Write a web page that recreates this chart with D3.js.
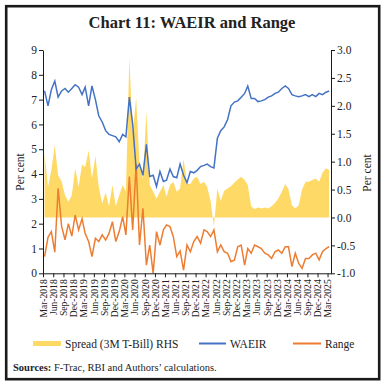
<!DOCTYPE html>
<html>
<head>
<meta charset="utf-8">
<script src="https://cdn.jsdelivr.net/npm/d3@7"></script>
<style>
  body { margin: 0; background: #fff; }
  text { font-family: "Liberation Serif", serif; fill: #222; }
</style>
</head>
<body>
<div id="chart"></div>
<script>
// monthly, Mar-2018 .. Mar-2025
let waeir = [
  7.35, 6.75, 7.4, 7.75, 7.1, 7.35, 7.45, 7.3, 7.45, 7.6,
  7.5, 7.2, 7.5, 6.75, 7.55, 7.0, 6.35, 6.1, 5.75, 5.6,
  5.55, 5.5, 5.3, 5.6, 5.5, 7.1, 6.0, 4.2, 4.4, 3.95,
  5.2, 3.9, 3.95, 3.5, 4.1, 3.7, 3.75, 4.2, 3.9, 3.85,
  4.4, 3.95, 3.65, 4.1, 4.05, 4.15, 4.3, 4.35, 4.4, 4.3,
  4.25, 5.45, 5.75, 5.9, 6.2, 6.75, 6.9, 6.95, 7.1, 7.25,
  7.55, 7.05, 7.05, 6.92, 6.95, 7.0, 7.1, 7.15, 7.25, 7.3,
  7.45, 7.55, 7.45, 7.2, 7.15, 7.12, 7.15, 7.2, 7.12, 7.2,
  7.12, 7.25, 7.2, 7.3, 7.35
];

let spread = [
  1.15, 0.55, 0.85, 1.3, 0.75, 0.65, 0.4, 0.28, 0.4, 0.88,
  0.55, 0.95, 0.9, 1.2, 0.7, 1.1, 0.55, 0.25, 0.45, 0.2,
  0.58, 0.2, 0.4, 0.58, 0.46, 2.85, 1.5, 2.15, 1.0, 0.7,
  1.9, 0.58, 0.46, 0.34, 0.46, 0.58, 0.37, 0.58, 0.64, 0.46,
  0.52, 1.05, 0.6, 0.6, 0.7, 0.73, 0.6, 0.64, 0.55, 0.3,
  -0.16, 0.52, 0.3, 0.48, 0.52, 0.56, 0.62, 0.68, 0.73, 0.67,
  0.58, 0.2, 0.15, 0.18, 0.16, 0.18, 0.16, 0.2, 0.26, 0.34,
  0.46, 0.6, 0.5, 0.22, 0.16, 0.22, 0.5, 0.64, 0.64, 0.67,
  0.7, 0.64, 0.8, 0.88, 0.85
];

let range_vals = [
  0.67, 1.45, 1.68, 0.85, 3.43, 1.9, 1.35, 2.0, 1.5, 2.35,
  1.75, 2.2, 1.6, 1.28, 0.67, 1.41, 1.28, 1.55, 1.34, 1.61,
  2.08, 1.28, 1.68, 2.28, 1.55, 3.9, 1.75, 4.4, 1.14, 2.62,
  0.33, 1.14, 0.0, 1.68, 1.14, 1.75, 1.95, 1.88, 1.48, 0.67,
  0.9, 0.13, 1.14, 0.87, 1.28, 1.48, 1.21, 1.75, 1.68, 1.48,
  1.75, 0.87, 1.14, 0.87, 0.81, 0.47, 0.54, 1.07, 1.14, 0.33,
  1.0, 0.81, 1.14, 1.07, 1.0, 0.81, 0.74, 0.6, 0.87, 0.94,
  0.81, 1.07, 1.07, 0.27, 0.81, 0.4, 0.2, 0.6, 0.6, 0.74,
  0.81, 0.54, 0.87, 1.0, 1.07
];

let left_ticks  = [0, 1, 2, 3, 4, 5, 6, 7, 8, 9];
let right_ticks = [-1, -0.5, 0, 0.5, 1, 1.5, 2, 2.5, 3];
let series_names = ['Spread (3M T-Bill) RHS', 'WAEIR', 'Range'];

let chart_width  = 384;
let chart_height = 386;
let x0 = 43, x1 = 331, y_top = 50, y_bot = 273.3;

let start = new Date(2018, 2, 1);
let end   = new Date(2025, 3, 1);
let months = d3.timeMonth.range(start, end);
let mid = i => d3.timeDay.offset(months[i], 14);

//svg
let svg = d3.select('#chart')
  .append('svg')
  .attr('width', chart_width)
  .attr('height', chart_height);

svg.append('rect')
  .attr('x', 6.2).attr('y', 6.2)
  .attr('width', 373).attr('height', 373)
  .attr('fill', 'none')
  .attr('stroke', '#1a1a1a')
  .attr('stroke-width', 2.6);

svg.append('text')
  .attr('x', 192).attr('y', 28)
  .attr('text-anchor', 'middle')
  .attr('font-size', 16.5)
  .attr('font-weight', 'bold')
  .text('Chart 11: WAEIR and Range');

//scales
let x_scale = d3.scaleTime().domain([start, end]).range([x0, x1]);
let y_left  = d3.scaleLinear().domain([0, 9]).range([y_bot, y_top]);
let y_right = d3.scaleLinear().domain([-1, 3]).range([y_bot, y_top]);

//spread area
let area = d3.area()
  .x((d, i) => x_scale(mid(i)))
  .y0(y_right(0))
  .y1(d => y_right(d));

svg.append('path')
  .datum(spread)
  .attr('d', area)
  .attr('fill', '#FFD966');

//lines
let line_l = d3.line()
  .x((d, i) => x_scale(mid(i)))
  .y(d => y_left(d));

svg.append('path')
  .datum(range_vals)
  .attr('d', line_l)
  .attr('fill', 'none')
  .attr('stroke', '#ED7D31')
  .attr('stroke-width', 1.5);

svg.append('path')
  .datum(waeir)
  .attr('d', line_l)
  .attr('fill', 'none')
  .attr('stroke', '#4472C4')
  .attr('stroke-width', 1.5);

//axes
let x_axis = d3.axisBottom(x_scale)
  .tickValues(d3.timeMonth.range(start, end, 3))
  .tickFormat(d3.timeFormat('%b-%Y'))
  .tickSize(4)
  .tickSizeOuter(0);

let gx = svg.append('g')
  .attr('transform', 'translate(0,' + y_bot + ')')
  .call(x_axis);
gx.selectAll('text')
  .attr('transform', 'rotate(-90)')
  .attr('text-anchor', 'end')
  .attr('x', -6)
  .attr('y', 0)
  .attr('dy', '0.35em')
  .attr('font-size', 9.6);

let gl = svg.append('g')
  .attr('transform', 'translate(' + x0 + ',0)')
  .call(d3.axisLeft(y_left).tickValues(left_ticks).tickSize(4).tickSizeOuter(0));
gl.selectAll('text').attr('font-size', 11.5).attr('x', -6);

let gr = svg.append('g')
  .attr('transform', 'translate(' + x1 + ',0)')
  .call(d3.axisRight(y_right).tickValues(right_ticks)
    .tickFormat(d => d.toFixed(1)).tickSize(4).tickSizeOuter(0));
gr.selectAll('text').attr('font-size', 11.5).attr('x', 6);

svg.selectAll('.domain, .tick line').attr('stroke', '#1a1a1a');
svg.selectAll('.tick text').attr('font-family', '"Liberation Serif", serif').attr('fill', '#222');

//axis titles
svg.append('text')
  .attr('transform', 'translate(24,172) rotate(-90)')
  .attr('text-anchor', 'middle')
  .attr('font-size', 11.5)
  .text('Per cent');

svg.append('text')
  .attr('transform', 'translate(371,173) rotate(-90)')
  .attr('text-anchor', 'middle')
  .attr('font-size', 11.5)
  .text('Per cent');

//legend
let lg = svg.append('g').attr('font-size', 11.5);
lg.append('rect')
  .attr('x', 33).attr('y', 341).attr('width', 28).attr('height', 5)
  .attr('fill', '#FFD966');
lg.append('text').attr('x', 65).attr('y', 347.5).text(series_names[0]);

lg.append('line')
  .attr('x1', 199).attr('x2', 226).attr('y1', 343.5).attr('y2', 343.5)
  .attr('stroke', '#4472C4').attr('stroke-width', 2);
lg.append('text').attr('x', 230).attr('y', 347.5).text(series_names[1]);

lg.append('line')
  .attr('x1', 293).attr('x2', 321).attr('y1', 343.5).attr('y2', 343.5)
  .attr('stroke', '#ED7D31').attr('stroke-width', 2);
lg.append('text').attr('x', 325).attr('y', 347.5).text(series_names[2]);

//source
let src = svg.append('text').attr('x', 13).attr('y', 371).attr('font-size', 10.5);
src.append('tspan').attr('font-weight', 'bold').text('Sources:');
src.append('tspan').text(' F-Trac, RBI and Authors\u2019 calculations.');
</script>
</body>
</html>
